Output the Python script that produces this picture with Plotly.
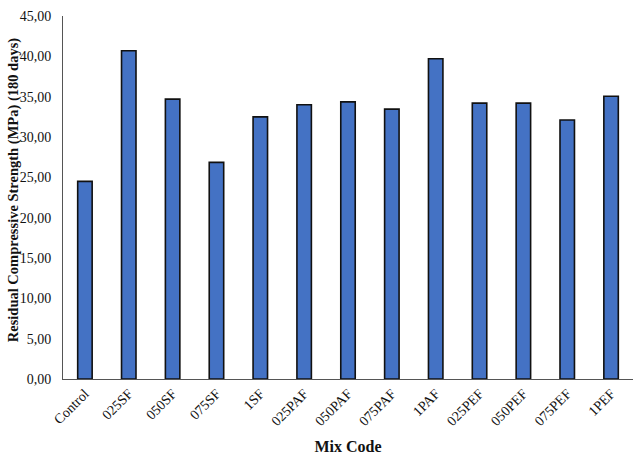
import plotly.graph_objects as go

categories = ["Control", "025SF", "050SF", "075SF", "1SF", "025PAF", "050PAF",
              "075PAF", "1PAF", "025PEF", "050PEF", "075PEF", "1PEF"]
strength = [24.5, 40.7, 34.7, 26.85, 32.5, 34.0, 34.35, 33.45, 39.7, 34.2, 34.2, 32.1, 35.05]
y_ticks = [0, 5, 10, 15, 20, 25, 30, 35, 40, 45]

font_family = "Liberation Serif, Times New Roman, serif"
W, H = 640, 460
L, R, T, B = 63, 7, 16, 81

fig = go.Figure(go.Bar(
    x=categories, y=strength,
    marker=dict(color="#4472C4", line=dict(color="#111111", width=1.6)),
))

fig.update_layout(
    width=W, height=H,
    margin=dict(l=L, r=R, t=T, b=B, autoexpand=False),
    plot_bgcolor="white", paper_bgcolor="white",
    bargap=0.67,
    separators=", ",
    font=dict(family=font_family, color="#111111", size=14),
    showlegend=False,
    xaxis=dict(
        title=dict(text="<b>Mix Code</b>", font=dict(size=16, family=font_family), standoff=12),
        tickangle=-45, showline=True, linecolor="#555555", linewidth=1,
        showgrid=False, ticks="", tickfont=dict(size=14, family=font_family),
        automargin=False,
    ),
    yaxis=dict(
        range=[0, 45], tickvals=y_ticks, tickformat=".2f",
        showline=True, linecolor="#555555", linewidth=1,
        showgrid=False, ticks="", zeroline=False,
        tickfont=dict(size=14, family=font_family),
        ticklabelstandoff=8, automargin=False,
    ),
    annotations=[dict(
        text="<b>Residual Compressive Strength (MPa) (180 days)</b>",
        textangle=-90, xref="paper", yref="paper",
        x=-(L - 13) / (W - L - R), y=0.52, xanchor="center", yanchor="middle",
        showarrow=False, font=dict(size=14.5, family=font_family, color="#111111"),
    )],
)

fig.write_html("out.html",
               config={"displayModeBar": False},
               post_script="document.body.style.margin='0';document.body.style.overflow='hidden';")
